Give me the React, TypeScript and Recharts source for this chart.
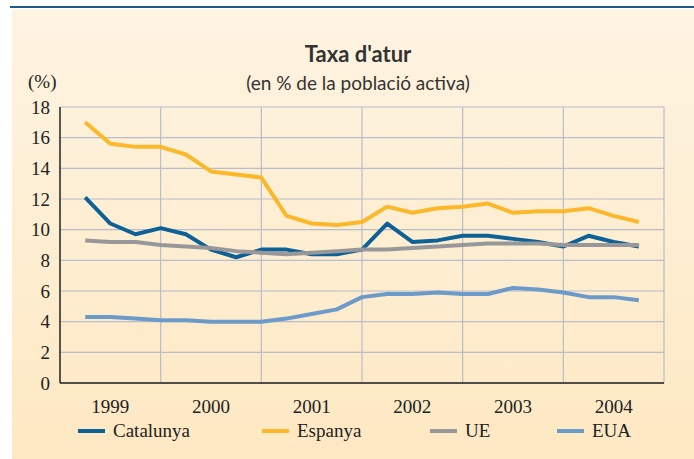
import {
  LineChart, Line, XAxis, YAxis, CartesianGrid, ReferenceLine,
} from 'recharts'

// quarterly points, index 1..23 on a 0..24 quarter axis (1999-2004)
const quarters = [1, 2, 3, 4, 5, 6, 7, 8, 9, 10, 11, 12, 13, 14, 15, 16, 17, 18, 19, 20, 21, 22, 23]
const catalunya = [12.1, 10.4, 9.7, 10.1, 9.7, 8.7, 8.2, 8.7, 8.7, 8.4, 8.4, 8.7, 10.4, 9.2, 9.3, 9.6, 9.6, 9.4, 9.2, 8.9, 9.6, 9.2, 8.9]
const espanya = [17.0, 15.6, 15.4, 15.4, 14.9, 13.8, 13.6, 13.4, 10.9, 10.4, 10.3, 10.5, 11.5, 11.1, 11.4, 11.5, 11.7, 11.1, 11.2, 11.2, 11.4, 10.9, 10.5]
const ue = [9.3, 9.2, 9.2, 9.0, 8.9, 8.8, 8.6, 8.5, 8.4, 8.5, 8.6, 8.7, 8.7, 8.8, 8.9, 9.0, 9.1, 9.1, 9.1, 9.0, 9.0, 9.0, 9.0]
const eua = [4.3, 4.3, 4.2, 4.1, 4.1, 4.0, 4.0, 4.0, 4.2, 4.5, 4.8, 5.6, 5.8, 5.8, 5.9, 5.8, 5.8, 6.2, 6.1, 5.9, 5.6, 5.6, 5.4]

const years = ['1999', '2000', '2001', '2002', '2003', '2004']
const yearTicks = [2, 6, 10, 14, 18, 22]
const yearBounds = [4, 8, 12, 16, 20, 24]
const yTicks = [0, 2, 4, 6, 8, 10, 12, 14, 16, 18]
const minorTicks = Array.from({ length: 37 }, (_, i) => i * 0.5)

const series = [
  { key: 'catalunya', name: 'Catalunya', color: '#0d6196' },
  { key: 'espanya', name: 'Espanya', color: '#fbb82b' },
  { key: 'ue', name: 'UE', color: '#98989a' },
  { key: 'eua', name: 'EUA', color: '#6c9bc9' },
]

const data = quarters.map((q, i) => ({
  q,
  catalunya: catalunya[i],
  espanya: espanya[i],
  ue: ue[i],
  eua: eua[i],
}))

const serif = '"Times New Roman", "Liberation Serif", "DejaVu Serif", serif'
const sans = 'Lato, "Open Sans", sans-serif'

const legendPos = [78, 262, 430, 557]

export default function App() {
  return (
    <div style={{ position: 'relative', width: 694, height: 459, background: '#fff', overflow: 'hidden' }}>
      <style>{`body{margin:0} .chart text{font-family:${serif}}`}</style>
      <div style={{ position: 'absolute', left: 10, top: 6, width: 684, height: 2, background: '#1d5a8a' }} />
      <div style={{
        position: 'absolute', left: 12, top: 9, width: 682, height: 450,
        background: 'linear-gradient(#fef4e2, #fde8c2)',
      }} />
      <div style={{
        position: 'absolute', left: 0, width: 716, top: 40, textAlign: 'center',
        fontFamily: sans, fontWeight: 700, fontSize: 22, color: '#333',
      }}>Taxa d'atur</div>
      <div style={{
        position: 'absolute', left: 0, width: 716, top: 71, textAlign: 'center',
        fontFamily: sans, fontWeight: 400, fontSize: 19, color: '#333',
      }}>(en % de la població activa)</div>
      <div style={{
        position: 'absolute', left: 28, top: 71, fontFamily: serif, fontSize: 19, color: '#222',
      }}>(%)</div>
      <div className="chart" style={{ position: 'absolute', left: 0, top: 0 }}>
        <LineChart width={694} height={459} data={data} margin={{ top: 107, right: 30, bottom: 46, left: 0 }}>
          <CartesianGrid vertical={false} stroke="#b9bccb" strokeWidth={1.2} />
          {yearBounds.map((b) => (
            <ReferenceLine key={b} x={b} stroke="#b9bccb" strokeWidth={1.2} />
          ))}
          <XAxis
            dataKey="q" type="number" domain={[0, 24]} ticks={yearTicks}
            tickFormatter={(v: number) => years[yearTicks.indexOf(v)]}
            tickLine={false} axisLine={{ stroke: '#222', strokeWidth: 1.5 }} height={30}
            tick={{ fontSize: 19, fill: '#222' }} tickMargin={11}
          />
          <YAxis
            domain={[0, 18]} ticks={yTicks} width={60} tickLine={false}
            axisLine={{ stroke: '#222', strokeWidth: 1.5 }}
            tick={{ fontSize: 19, fill: '#222' }} tickMargin={4}
          />
          <YAxis
            yAxisId="minor" domain={[0, 18]} ticks={minorTicks} width={0} axisLine={false}
            tick={false} tickSize={3} tickLine={{ stroke: '#555' }} orientation="left"
          />
          {series.map((s) => (
            <Line
              key={s.key} dataKey={s.key} name={s.name} stroke={s.color} strokeWidth={4}
              dot={false} isAnimationActive={false} strokeLinejoin="round" type="linear"
            />
          ))}
        </LineChart>
      </div>
      {series.map((s, i) => (
        <div key={s.key} style={{
          position: 'absolute', left: legendPos[i], top: 419, display: 'flex', alignItems: 'center',
        }}>
          <span style={{ display: 'inline-block', width: 27, height: 4, background: s.color, marginRight: 8 }} />
          <span style={{ fontFamily: serif, fontSize: 19, color: '#222', lineHeight: '24px' }}>{s.name}</span>
        </div>
      ))}
    </div>
  )
}
